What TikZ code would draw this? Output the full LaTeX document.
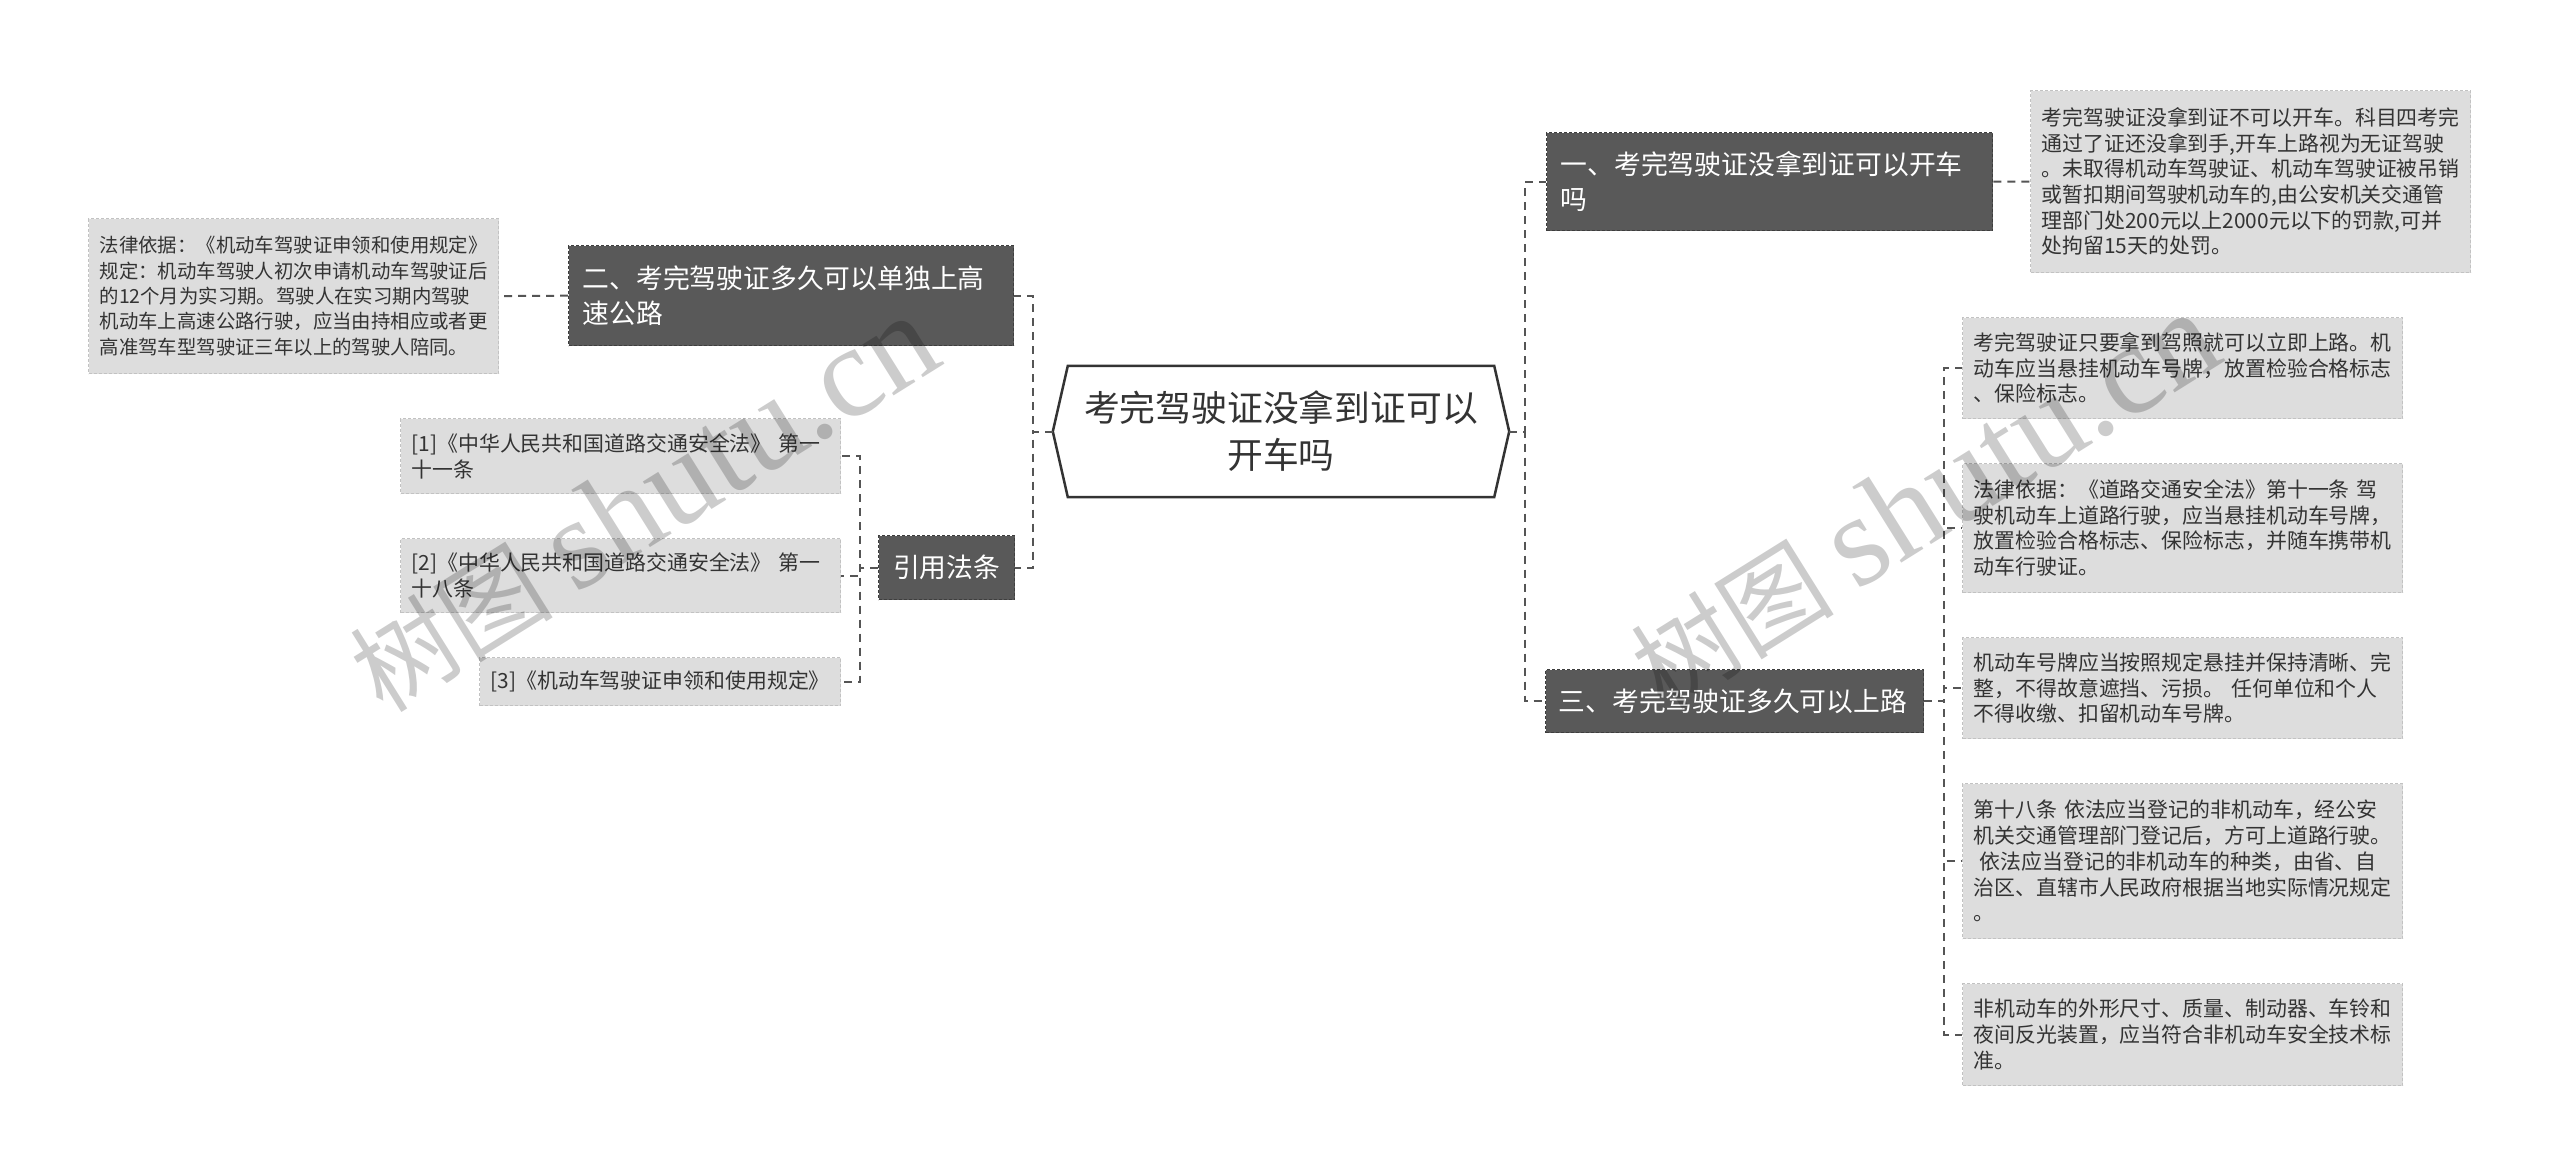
\documentclass[tikz,border=0pt]{standalone}
\usepackage{fontspec}
\setmainfont{Noto Sans CJK SC}
\newfontfamily\wmlatin{Liberation Serif}
\usetikzlibrary{calc}
\definecolor{darkbox}{HTML}{595959}
\definecolor{darkborder}{HTML}{3E3E3E}
\definecolor{leafbox}{HTML}{DDDDDD}
\definecolor{leafborder}{HTML}{C2C2C2}
\definecolor{linecol}{HTML}{555555}
\definecolor{txt}{HTML}{333333}
\begin{document}
\begin{tikzpicture}[x=1pt,y=-1pt,
  leafnode/.style={draw=leafborder, line width=1.2pt, dash pattern=on 3pt off 2pt, fill=leafbox, text=txt,
    align=left, anchor=north west, inner ysep=0pt, inner xsep=11pt, font=\fontsize{20.9}{25.7}\selectfont},
  topicnode/.style={draw=darkborder, line width=1.4pt, dash pattern=on 3pt off 2pt, fill=darkbox, text=white,
    align=left, anchor=north west, inner ysep=0pt, inner xsep=14pt, font=\fontsize{26.8}{35}\selectfont},
  conn/.style={draw=linecol, line width=2pt, dash pattern=on 8pt off 6pt},
  watermark/.style={rotate=32, text=black, text opacity=0.2, inner sep=0pt, font=\fontsize{102}{102}\selectfont},
]
\useasboundingbox[fill=white] (0,0) rectangle (2560,1175);

% root
\node[minimum width=456pt, minimum height=131pt, inner sep=0pt, text width=420pt, align=center,
  text=txt, font=\fontsize{35.8}{47}\selectfont] (root) at (1281,431.5)
  {考完驾驶证没拿到证可以\\开车吗};
\draw[draw=txt, line width=2.5pt, line join=miter]
  (root.west) -- ($(root.north west)+(15,0)$) -- ($(root.north east)+(-15,0)$) -- (root.east)
  -- ($(root.south east)+(-15,0)$) -- ($(root.south west)+(15,0)$) -- cycle;

% topics
\node[topicnode, text width=418pt, minimum height=98pt] (n1) at (1546,132)
  {一、考完驾驶证没拿到证可以开车\\吗};
\node[topicnode, text width=417pt, minimum height=100pt] (n2) at (568,245)
  {二、考完驾驶证多久可以单独上高\\速公路};
\node[topicnode, inner xsep=13pt, text width=352pt, minimum height=63pt] (n3) at (1545,669)
  {三、考完驾驶证多久可以上路};
\node[topicnode, text width=108pt, minimum height=64pt, align=center] (ref) at (878,535)
  {引用法条};

% leaves
\node[leafnode, text width=418pt, minimum height=182pt] (l11) at (2030,90)
  {考完驾驶证没拿到证不可以开车。科目四考完\\通过了证还没拿到手,开车上路视为无证驾驶\\。未取得机动车驾驶证、机动车驾驶证被吊销\\或暂扣期间驾驶机动车的,由公安机关交通管\\理部门处200元以上2000元以下的罚款,可并\\处拘留15天的处罚。};

\node[leafnode, font=\fontsize{19.4}{25.4}\selectfont, text width=388pt, minimum height=155pt] (l21) at (88,218)
  {法律依据：《机动车驾驶证申领和使用规定》\\规定：机动车驾驶人初次申请机动车驾驶证后\\的12个月为实习期。驾驶人在实习期内驾驶\\机动车上高速公路行驶，应当由持相应或者更\\高准驾车型驾驶证三年以上的驾驶人陪同。};

\node[leafnode, text width=418pt, minimum height=75pt] (r1) at (400,418)
  {[1]《中华人民共和国道路交通安全法》 第一\\十一条};
\node[leafnode, text width=418pt, minimum height=74pt] (r2) at (400,538)
  {[2]《中华人民共和国道路交通安全法》 第一\\十八条};
\node[leafnode, text width=339pt, minimum height=48pt] (r3) at (479,657)
  {[3]《机动车驾驶证申领和使用规定》};

\node[leafnode, text width=418pt, minimum height=101pt] (l31) at (1962,317)
  {考完驾驶证只要拿到驾照就可以立即上路。机\\动车应当悬挂机动车号牌，放置检验合格标志\\、保险标志。};
\node[leafnode, text width=418pt, minimum height=129pt] (l32) at (1962,463)
  {法律依据：《道路交通安全法》第十一条 驾\\驶机动车上道路行驶，应当悬挂机动车号牌，\\放置检验合格标志、保险标志，并随车携带机\\动车行驶证。};
\node[leafnode, text width=418pt, minimum height=101pt] (l33) at (1962,637)
  {机动车号牌应当按照规定悬挂并保持清晰、完\\整，不得故意遮挡、污损。 任何单位和个人\\不得收缴、扣留机动车号牌。};
\node[leafnode, text width=418pt, minimum height=155pt] (l34) at (1962,783)
  {第十八条 依法应当登记的非机动车，经公安\\机关交通管理部门登记后，方可上道路行驶。\\\hspace*{6pt}依法应当登记的非机动车的种类，由省、自\\治区、直辖市人民政府根据当地实际情况规定\\。};
\node[leafnode, text width=418pt, minimum height=102pt] (l35) at (1962,983)
  {非机动车的外形尺寸、质量、制动器、车铃和\\夜间反光装置，应当符合非机动车安全技术标\\准。};

% connectors
\draw[conn] (root.west) -- ++(-20,0) |- (n2.east);
\draw[conn] (root.west) -- ++(-20,0) |- (ref.east);
\draw[conn] (root.east) -- ++(16,0) |- (n1.west);
\draw[conn] (root.east) -- ++(16,0) |- (n3.west);
\draw[conn] (n1.east) -- (l11.west);
\draw[conn] (n2.west) -- (l21.east);
\draw[conn] (ref.west) -- ++(-18,0) |- (r1.east);
\draw[conn] (ref.west) -- ++(-18,0) |- (r2.east);
\draw[conn] (ref.west) -- ++(-18,0) |- (r3.east);
\draw[conn] (n3.east) -- ++(20,0) |- (l31.west);
\draw[conn] (n3.east) -- ++(20,0) |- (l32.west);
\draw[conn] (n3.east) -- ++(20,0) |- (l33.west);
\draw[conn] (n3.east) -- ++(20,0) |- (l34.west);
\draw[conn] (n3.east) -- ++(20,0) |- (l35.west);

% watermarks
\node[watermark] (wm1) at (643,504) {树图 {\wmlatin\fontsize{130}{130}\selectfont shutu.cn}};
\node[watermark] (wm2) at (1924,501) {树图 {\wmlatin\fontsize{130}{130}\selectfont shutu.cn}};
\end{tikzpicture}
\end{document}
